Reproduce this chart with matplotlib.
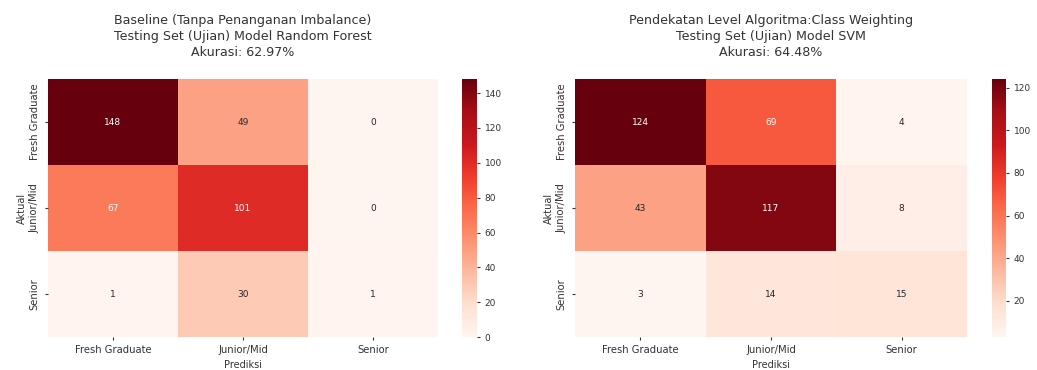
import numpy as np
import matplotlib
matplotlib.use("Agg")
import matplotlib.pyplot as plt
import seaborn as sns

labels = ["Fresh Graduate", "Junior/Mid", "Senior"]

cm_rf = np.array([[148, 49, 0],
                  [67, 101, 0],
                  [1, 30, 1]])
cm_svm = np.array([[124, 69, 4],
                   [43, 117, 8],
                   [3, 14, 15]])

title_rf = "Baseline (Tanpa Penanganan Imbalance)\nTesting Set (Ujian) Model Random Forest\nAkurasi: 62.97%"
title_svm = "Pendekatan Level Algoritma:Class Weighting\nTesting Set (Ujian) Model SVM\nAkurasi: 64.48%"

fig = plt.figure(figsize=(10.37, 3.70), dpi=100)

ax1 = fig.add_axes([0.0463, 0.089, 0.376, 0.697])
cax1 = fig.add_axes([0.4455, 0.089, 0.0145, 0.697])
ax2 = fig.add_axes([0.5545, 0.089, 0.378, 0.697])
cax2 = fig.add_axes([0.9566, 0.089, 0.0135, 0.697])

for ax, cax, cm, title in [(ax1, cax1, cm_rf, title_rf), (ax2, cax2, cm_svm, title_svm)]:
    sns.heatmap(cm, annot=True, fmt="d", cmap="Reds", ax=ax, cbar_ax=cax,
                xticklabels=labels, yticklabels=labels,
                annot_kws={"fontsize": 6.5})
    ax.set_title(title, fontsize=9.1, color="#333333", pad=17, linespacing=1.3)
    ax.set_xlabel("Prediksi", fontsize=7, color="#333333", labelpad=3)
    ax.set_ylabel("Aktual", fontsize=7, color="#333333", labelpad=2)
    ax.tick_params(labelsize=7.2, colors="#333333", length=2, pad=4)
    plt.setp(ax.get_yticklabels(), rotation=90, va="center")
    cax.tick_params(labelsize=6.5, colors="#333333", length=2)
    cax.yaxis.set_major_locator(matplotlib.ticker.MultipleLocator(20))

fig.savefig("out.png", dpi=100)
